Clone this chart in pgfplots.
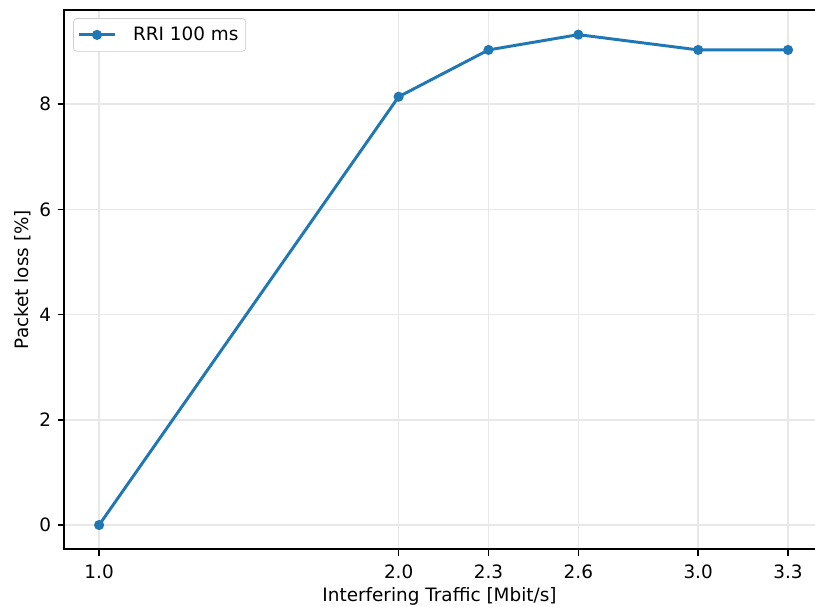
\documentclass[border=0pt]{standalone}
\usepackage{fontspec}
\setmainfont{DejaVu Sans}
\usepackage{pgfplots}
\pgfplotsset{compat=1.18}
\definecolor{tabblue}{HTML}{1F77B4}
\begin{document}
\begin{tikzpicture}
\begin{axis}[
  name=ax,
  scale only axis,
  width=408pt, height=293pt,
  xmin=0.883, xmax=3.39,
  ymin=-0.46, ymax=9.79,
  xtick={1.0,2.0,2.3,2.6,3.0,3.3},
  xticklabels={1.0,2.0,2.3,2.6,3.0,3.3},
  ytick={0,2,4,6,8},
  /pgf/number format/assume math mode=true,
  tick label style={font=\fontsize{10}{12}\selectfont},
  xticklabel style={yshift=-1.5pt},
  label style={font=\fontsize{10}{12}\selectfont},
  xlabel={Interfering Traffic [Mbit/s]},
  ylabel={Packet loss [\%]},
  xtick pos=bottom, ytick pos=left,
  tick align=outside,
  major tick length=3.5pt,
  every tick/.style={black, line width=0.8pt},
  axis line style={draw=none},
  grid=major,
  major grid style={line width=0.8pt, color=black!9},
  xlabel style={yshift=2.2pt},
  ylabel style={yshift=-2pt},
  legend style={at={(0.012,0.985)}, anchor=north west, draw=black!20, rounded corners=2pt,
    font=\fontsize{10}{12}\selectfont, inner xsep=2pt, inner ysep=2.5pt,
    nodes={inner sep=2pt}, column sep=6.8pt},
  legend image code/.code={%
    \draw[mark repeat=2,mark phase=2] plot coordinates {(0pt,0pt) (10pt,0pt) (20pt,0pt)};},
  legend cell align=left,
  clip=false,
]
\addplot[tabblue, line width=1.6pt, mark=*, mark size=1.9pt, mark options={solid, fill=tabblue, draw=none}]
  coordinates {(1.0,0) (2.0,8.14) (2.3,9.03) (2.6,9.32) (3.0,9.03) (3.3,9.03)};
\addlegendentry{RRI 100 ms}
\draw[black, line width=0.8pt] (rel axis cs:1,1) -- (rel axis cs:0,1) -- (rel axis cs:0,0) -- (rel axis cs:1,0);
\end{axis}
\pgfresetboundingbox
\path ([xshift=-34.8pt,yshift=-31pt]ax.south west) rectangle ([yshift=5.4pt]ax.north east);
\end{tikzpicture}
\end{document}
